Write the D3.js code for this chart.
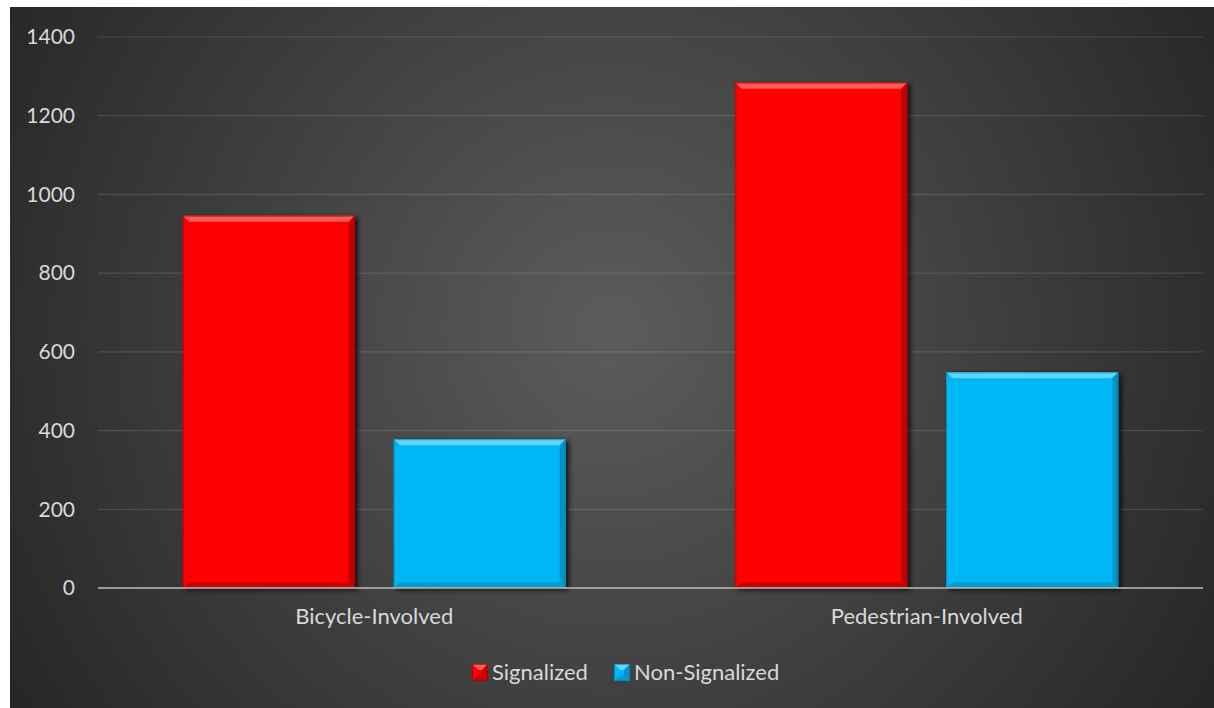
<!DOCTYPE html>
<html>
<head>
<meta charset="utf-8">
<script src="https://cdn.jsdelivr.net/npm/d3@7"></script>
<style>
  html, body { margin: 0; padding: 0; background: #ffffff; }
  svg { display: block; }
  text { font-family: Lato, "Open Sans", sans-serif; fill: #d9d9d9; }
</style>
</head>
<body>
<svg id="chart" width="1214" height="708"></svg>
<script>
// Crash counts by type and intersection control
const categories = ["Bicycle-Involved", "Pedestrian-Involved"];
const seriesNames = ["Signalized", "Non-Signalized"];
const signalized = [946, 1284];
const nonSignalized = [378, 548];
const yTicks = [0, 200, 400, 600, 800, 1000, 1200, 1400];

const seriesColors = {
  "Signalized": { base: "#ff0000", light: "#ff5a5a", dark: "#c00000", darker: "#a00000" },
  "Non-Signalized": { base: "#00b7f5", light: "#5fd6ff", dark: "#0093c8", darker: "#0079a8" }
};

const W = 1214, H = 708;
const frame = { left: 10, top: 7, right: W, bottom: H };
const plot = { left: 98, right: 1203, top: 37, bottom: 588 };

const svg = d3.select("#chart");
const defs = svg.append("defs");

// dark radial backdrop
const bg = defs.append("radialGradient").attr("id", "bgGrad")
  .attr("gradientUnits", "userSpaceOnUse")
  .attr("cx", 610).attr("cy", 330).attr("r", 720);
bg.append("stop").attr("offset", "0%").attr("stop-color", "#5c5c5c");
bg.append("stop").attr("offset", "100%").attr("stop-color", "#252525");

svg.append("rect")
  .attr("x", frame.left).attr("y", frame.top)
  .attr("width", frame.right - frame.left).attr("height", frame.bottom - frame.top)
  .attr("fill", "url(#bgGrad)");

// soft shadow under bars
const shadow = defs.append("filter").attr("id", "barShadow")
  .attr("x", "-10%").attr("y", "-10%").attr("width", "130%").attr("height", "130%");
shadow.append("feGaussianBlur").attr("in", "SourceAlpha").attr("stdDeviation", 2.5).attr("result", "blur");
shadow.append("feOffset").attr("in", "blur").attr("dx", 3).attr("dy", 2).attr("result", "off");
shadow.append("feComponentTransfer").attr("in", "off").attr("result", "shade")
  .append("feFuncA").attr("type", "linear").attr("slope", 0.75);
const merge = shadow.append("feMerge");
merge.append("feMergeNode").attr("in", "shade");
merge.append("feMergeNode").attr("in", "SourceGraphic");

// scales
const x0 = d3.scaleBand().domain(categories)
  .range([plot.left, plot.right]).paddingInner(0.307).paddingOuter(0.1535);
const x1 = d3.scaleBand().domain(seriesNames)
  .range([0, x0.bandwidth()]).paddingInner(0.185).paddingOuter(0);
const y = d3.scaleLinear().domain([0, 1400]).range([plot.bottom, plot.top]);

// gridlines
svg.append("g").selectAll("line")
  .data(yTicks.filter(t => t > 0))
  .join("line")
  .attr("x1", plot.left).attr("x2", plot.right)
  .attr("y1", d => y(d)).attr("y2", d => y(d))
  .attr("stroke", "#ffffff").attr("stroke-opacity", 0.13).attr("stroke-width", 1.2);

// y-axis labels
const yAxis = d3.axisLeft(y).tickValues(yTicks).tickSize(0).tickPadding(23).tickFormat(d3.format("d"));
const yG = svg.append("g").attr("transform", `translate(${plot.left},0)`).call(yAxis);
yG.select(".domain").remove();
yG.selectAll("text").style("font-size", "21px").attr("fill", "#d9d9d9");

// bars
const rows = categories.map((c, i) => ({
  category: c,
  values: [
    { series: "Signalized", value: signalized[i] },
    { series: "Non-Signalized", value: nonSignalized[i] }
  ]
}));

const bevel = 6;

function drawBevelBox(g, x, top, w, h, col) {
  const b = Math.min(bevel, h / 2, w / 2);
  g.append("rect").attr("x", x).attr("y", top).attr("width", w).attr("height", h)
    .attr("fill", col.base);
  // top bevel
  g.append("polygon")
    .attr("points", [[x, top], [x + w, top], [x + w - b, top + b], [x + b, top + b]].join(" "))
    .attr("fill", col.light);
  // left bevel
  g.append("polygon")
    .attr("points", [[x, top], [x + b, top + b], [x + b, top + h - b], [x, top + h]].join(" "))
    .attr("fill", col.base).attr("opacity", 0.9);
  // right bevel
  g.append("polygon")
    .attr("points", [[x + w, top], [x + w, top + h], [x + w - b, top + h - b], [x + w - b, top + b]].join(" "))
    .attr("fill", col.dark);
  // bottom bevel
  g.append("polygon")
    .attr("points", [[x, top + h], [x + b, top + h - b], [x + w - b, top + h - b], [x + w, top + h]].join(" "))
    .attr("fill", col.dark).attr("opacity", 0.8);
  // fine outline
  g.append("rect").attr("x", x + 0.5).attr("y", top + 0.5).attr("width", w - 1).attr("height", h - 1)
    .attr("fill", "none").attr("stroke", col.darker).attr("stroke-opacity", 0.6).attr("stroke-width", 1);
}

const groups = svg.append("g").selectAll("g")
  .data(rows).join("g")
  .attr("transform", d => `translate(${x0(d.category)},0)`);

groups.each(function(d) {
  const gg = d3.select(this);
  d.values.forEach(v => {
    const bar = gg.append("g").attr("filter", "url(#barShadow)");
    drawBevelBox(bar, x1(v.series), y(v.value), x1.bandwidth(), y(0) - y(v.value), seriesColors[v.series]);
  });
});

// baseline
svg.append("line")
  .attr("x1", plot.left).attr("x2", plot.right)
  .attr("y1", y(0)).attr("y2", y(0))
  .attr("stroke", "#bdbdbd").attr("stroke-opacity", 0.75).attr("stroke-width", 2.2);

// category labels
const xAxis = d3.axisBottom(x0).tickSize(0).tickPadding(20);
const xG = svg.append("g").attr("transform", `translate(0,${plot.bottom})`).call(xAxis);
xG.select(".domain").remove();
xG.selectAll("text").style("font-size", "22px").attr("fill", "#d9d9d9");

// legend
const legendItems = seriesNames.map((s, i) => ({ name: s, x: [472, 614][i] }));
const legend = svg.append("g").attr("transform", "translate(0,664)");
legendItems.forEach(item => {
  const lg = legend.append("g").attr("transform", `translate(${item.x},0)`);
  drawBevelBox(lg, 0, 0, 16, 17, seriesColors[item.name]);
  lg.append("text").attr("x", 20).attr("y", 16)
    .style("font-size", "22px").text(item.name);
});
</script>
</body>
</html>
